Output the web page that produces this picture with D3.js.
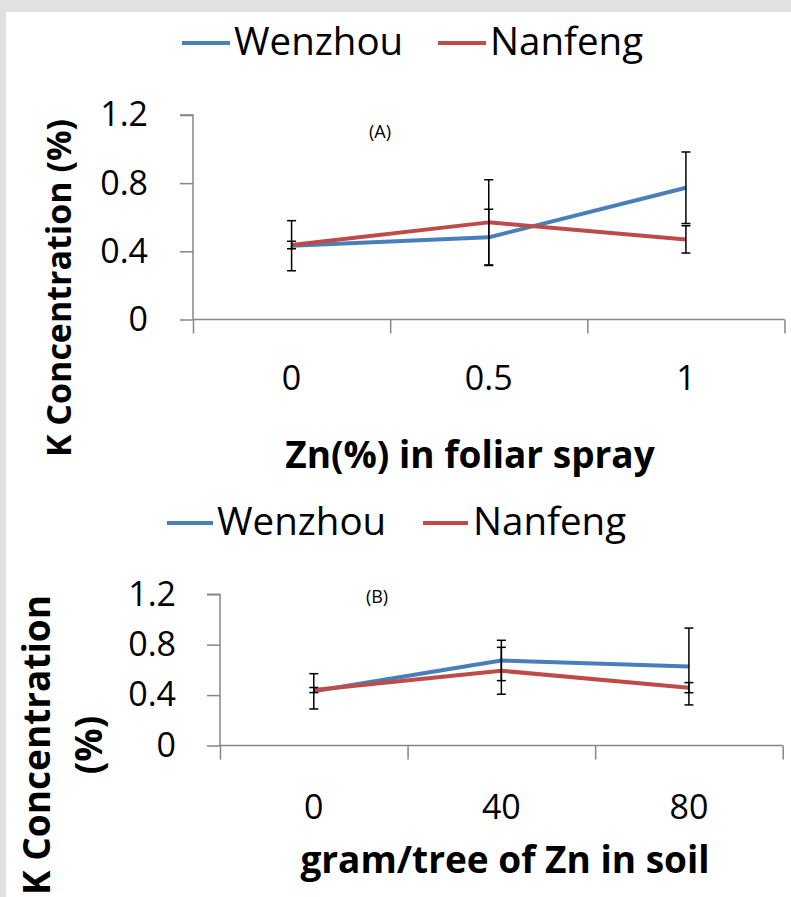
<!DOCTYPE html>
<html>
<head>
<meta charset="utf-8">
<script src="https://cdn.jsdelivr.net/npm/d3@7"></script>
<style>
  html, body { margin: 0; padding: 0; background: #e1e1e1; }
  svg { display: block; font-family: "Open Sans", sans-serif; }
</style>
</head>
<body>
<svg width="791" height="897"></svg>
<script>
// panel A: foliar spray
const catsA = ["0", "0.5", "1"];
const wenzhouA = [0.433, 0.482, 0.773];
const wenzhouErrA = [0.147, 0.165, 0.21];
const nanfengA = [0.437, 0.57, 0.47];
const nanfengErrA = [0.022, 0.25, 0.08];

// panel B: soil application
const catsB = ["0", "40", "80"];
const wenzhouB = [0.43, 0.675, 0.627];
const wenzhouErrB = [0.14, 0.16, 0.305];
const nanfengB = [0.44, 0.593, 0.459];
const nanfengErrB = [0.02, 0.186, 0.04];

const yTicks = [0, 0.4, 0.8, 1.2];
const seriesNames = ["Wenzhou", "Nanfeng"];
const colors = ["#4a7ebb", "#be4b48"];

const svg = d3.select("svg");
svg.append("rect").attr("width", 791).attr("height", 897).attr("fill", "#e1e1e1");
svg.append("rect").attr("x", 6).attr("y", 12).attr("width", 785).attr("height", 885).attr("fill", "#fff");

function legend(y, pos) {
  const g = svg.append("g");
  seriesNames.forEach((name, i) => {
    const [x1, x2, tx] = pos[i];
    g.append("line")
      .attr("x1", x1).attr("x2", x2).attr("y1", y).attr("y2", y)
      .attr("stroke", colors[i]).attr("stroke-width", 4);
    g.append("text")
      .attr("x", tx).attr("y", y + 12)
      .attr("font-size", 38.5)
      .attr("fill", "#000")
      .text(name);
  });
}

function panel(cfg) {
  const x = d3.scaleBand().domain(cfg.cats).range([cfg.x0, cfg.x1]);
  const xEdge = d3.scaleLinear().domain([0, cfg.cats.length]).range([cfg.x0, cfg.x1]);
  const y = d3.scaleLinear().domain([0, 1.2]).range([cfg.y0, cfg.y1]);
  const g = svg.append("g");

  // y axis
  const ya = g.append("g")
    .attr("transform", `translate(${cfg.x0},0)`)
    .call(d3.axisLeft(y).tickValues(yTicks).tickSize(13).tickFormat(d3.format("")));
  ya.select(".domain").attr("stroke", "#868686").attr("stroke-width", 1.5).attr("d", `M-13,${cfg.y1}H0V${cfg.y0}`);
  ya.selectAll(".tick line").attr("stroke", "#868686").attr("stroke-width", 1.5);
  ya.selectAll(".tick text")
    .attr("x", -cfg.labelGap)
    .attr("font-size", cfg.tickFont)
    .attr("font-family", "Open Sans")
    .attr("fill", "#000");

  // x axis: ticks between categories
  const xa = g.append("g")
    .attr("transform", `translate(0,${cfg.y0})`)
    .call(d3.axisBottom(xEdge).tickValues(cfg.edgeTicks).tickSize(14).tickFormat(""));
  xa.select(".domain").attr("stroke", "#868686").attr("stroke-width", 1.5).attr("d", `M${cfg.x0},0H${cfg.x1}`);
  xa.selectAll(".tick line").attr("stroke", "#868686").attr("stroke-width", 1.5);

  g.selectAll(".xlab")
    .data(cfg.cats)
    .join("text")
    .attr("x", d => x(d) + x.bandwidth() / 2)
    .attr("y", cfg.xLabelY)
    .attr("text-anchor", "middle")
    .attr("font-size", cfg.tickFont)
    .text(d => d);

  const line = d3.line()
    .x((d, i) => x(cfg.cats[i]) + x.bandwidth() / 2)
    .y(d => y(d));

  cfg.series.forEach((s, k) => {
    g.append("path")
      .attr("d", line(s.vals))
      .attr("fill", "none")
      .attr("stroke", colors[k])
      .attr("stroke-width", 4)
      .attr("stroke-linejoin", "round");
  });

  cfg.series.forEach(s => {
    s.vals.forEach((v, i) => {
      const cx = x(cfg.cats[i]) + x.bandwidth() / 2;
      const lo = y(v - s.err[i]), hi = y(v + s.err[i]);
      const eb = g.append("g").attr("stroke", "#000").attr("stroke-width", 1.5);
      eb.append("line").attr("x1", cx).attr("x2", cx).attr("y1", lo).attr("y2", hi);
      eb.append("line").attr("x1", cx - 4.5).attr("x2", cx + 4.5).attr("y1", lo).attr("y2", lo);
      eb.append("line").attr("x1", cx - 4.5).attr("x2", cx + 4.5).attr("y1", hi).attr("y2", hi);
    });
  });

  // panel tag
  g.append("text")
    .attr("x", cfg.tag[0]).attr("y", cfg.tag[1])
    .attr("text-anchor", "middle")
    .attr("font-size", 18)
    .text(cfg.tag[2]);

  // x title
  g.append("text")
    .attr("x", cfg.xTitleX)
    .attr("y", cfg.xTitleY)
    .attr("text-anchor", "middle")
    .attr("font-size", cfg.titleFont)
    .attr("font-weight", "bold")
    .text(cfg.xTitle);

  // y title (may be multi-line)
  const yt = g.append("text")
    .attr("transform", `translate(${cfg.yTitleX},${cfg.yTitleY}) rotate(-90)`)
    .attr("text-anchor", "middle")
    .attr("font-size", cfg.yTitleFont)
    .attr("font-weight", "bold");
  cfg.yTitle.forEach((t, i) => {
    yt.append("tspan").attr("x", 0).attr("y", i * cfg.yTitleLead).text(t);
  });
}

legend(43, [[182, 230, 234], [438, 486, 490]]);
panel({
  cats: catsA, x0: 193, x1: 784.5, y0: 319.5, y1: 115,
  edgeTicks: [0, 1, 2, 3],
  series: [{ vals: wenzhouA, err: wenzhouErrA }, { vals: nanfengA, err: nanfengErrA }],
  tickFont: 34, labelGap: 45, xLabelY: 390,
  tag: [380, 138, "(A)"],
  xTitle: "Zn(%) in foliar spray", xTitleX: 470, xTitleY: 468, titleFont: 37,
  yTitle: ["K Concentration (%)"], yTitleX: 71, yTitleY: 288, yTitleFont: 34, yTitleLead: 0
});

legend(523, [[167, 213, 217], [423, 468, 473]]);
panel({
  cats: catsB, x0: 220, x1: 782.7, y0: 745.5, y1: 594.3,
  edgeTicks: [0, 1, 2, 3],
  series: [{ vals: wenzhouB, err: wenzhouErrB }, { vals: nanfengB, err: nanfengErrB }],
  tickFont: 34, labelGap: 44, xLabelY: 819,
  tag: [377, 603, "(B)"],
  xTitle: "gram/tree of Zn in soil", xTitleX: 505, xTitleY: 873, titleFont: 37,
  yTitle: ["K Concentration", "(%)"], yTitleX: 50, yTitleY: 745, yTitleFont: 37, yTitleLead: 52
});
</script>
</body>
</html>
